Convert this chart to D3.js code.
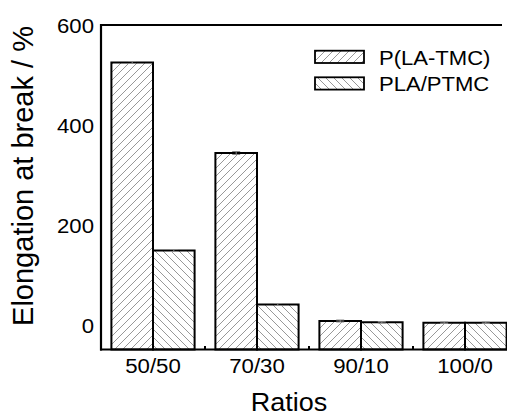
<!DOCTYPE html>
<html><head><meta charset="utf-8">
<script src="https://cdn.jsdelivr.net/npm/d3@7/dist/d3.min.js"></script>
<style>html,body{margin:0;padding:0;background:#fff;}svg{display:block;font-family:"Liberation Sans",Arial,sans-serif;}</style>
</head><body>
<script>
const categories = ["50/50", "70/30", "90/10", "100/0"];
const seriesNames = ["P(LA-TMC)", "PLA/PTMC"];
const copolymerValues = [525, 344, 8, 4.5];
const blendValues = [149, 41, 5.5, 4.5];
const copolymerErr = [2, 3, 2, 1.5];
const blendErr = [2, 2, 1.5, 1.5];
const yTicks = [0, 200, 400, 600];

(function () {
const W = 507, H = 417;
const svg = d3.select("body").append("svg").attr("width", W).attr("height", H);
const defs = svg.append("defs");
function hatch(id, dir) {
  const s = 8;
  const p = defs.append("pattern").attr("id", id).attr("patternUnits", "userSpaceOnUse")
    .attr("width", s).attr("height", s);
  p.append("rect").attr("width", s).attr("height", s).attr("fill", "#fff");
  const d = dir > 0
    ? `M0,${s} L${s},0 M${-s/2},${s/2} L${s/2},${-s/2} M${s/2},${s*1.5} L${s*1.5},${s/2}`
    : `M0,0 L${s},${s} M${-s/2},${s/2} L${s/2},${s*1.5} M${s/2},${-s/2} L${s*1.5},${s/2}`;
  p.append("path").attr("d", d).attr("stroke", "#8c8c8c").attr("stroke-width", 0.9).attr("fill", "none");
}
hatch("h1", 1);
hatch("h2", -1);
const fills = ["url(#h1)", "url(#h2)"];

const pl = 101, pt = 25, pb = 349.5;
const y = d3.scaleLinear().domain([-49, 600]).range([pb, pt]);
const x = d3.scaleBand().domain(categories).range([pl, 517]).paddingInner(0.2).paddingOuter(0.1);
const xs = d3.scaleBand().domain(seriesNames).range([0, x.bandwidth()]);

const data = [];
categories.forEach((c, i) => {
  data.push({cat: c, s: seriesNames[0], v: copolymerValues[i], e: copolymerErr[i], f: fills[0]});
  data.push({cat: c, s: seriesNames[1], v: blendValues[i], e: blendErr[i], f: fills[1]});
});

const bars = svg.append("g");
bars.selectAll("rect").data(data).join("rect")
  .attr("x", d => x(d.cat) + xs(d.s))
  .attr("y", d => y(d.v))
  .attr("width", xs.bandwidth())
  .attr("height", d => pb - y(d.v))
  .attr("fill", d => d.f)
  .attr("stroke", "#000").attr("stroke-width", 2);

const eb = svg.append("g").attr("stroke", "#888").attr("stroke-width", 1);
data.forEach(d => {
  const cx = x(d.cat) + xs(d.s) + xs.bandwidth() / 2;
  eb.append("line").attr("x1", cx).attr("x2", cx).attr("y1", y(d.v + d.e)).attr("y2", y(d.v - d.e));
  eb.append("line").attr("x1", cx - 4).attr("x2", cx + 4).attr("y1", y(d.v + d.e)).attr("y2", y(d.v + d.e));
  eb.append("line").attr("x1", cx - 4).attr("x2", cx + 4).attr("y1", y(d.v - d.e)).attr("y2", y(d.v - d.e));
});

svg.append("line").attr("x1", pl).attr("x2", pl).attr("y1", pt - 1).attr("y2", pb + 1)
  .attr("stroke", "#000").attr("stroke-width", 2.2);
svg.append("line").attr("x1", pl - 1).attr("x2", 502).attr("y1", pt).attr("y2", pt)
  .attr("stroke", "#000").attr("stroke-width", 2.2);
svg.append("line").attr("x1", pl - 1).attr("x2", W).attr("y1", pb).attr("y2", pb)
  .attr("stroke", "#000").attr("stroke-width", 2.2);

const step = x.step();
categories.slice(1).forEach(c => {
  const bx = x(c) - step * 0.1;
  svg.append("line").attr("x1", bx).attr("x2", bx).attr("y1", pb).attr("y2", pb - 3.5)
    .attr("stroke", "#000").attr("stroke-width", 2);
});

const yg = svg.append("g");
yTicks.forEach(t => {
  yg.append("text").attr("transform", `translate(94,${y(t) + 7.5}) scale(1.08,1)`)
    .attr("text-anchor", "end").attr("font-size", 20.5).attr("fill", "#000").text(t);
});

categories.forEach(c => {
  svg.append("text").attr("transform", `translate(${x(c) + x.bandwidth() / 2},${373}) scale(1.06,1)`)
    .attr("text-anchor", "middle").attr("font-size", 21).attr("fill", "#000").text(c);
});

svg.append("text").attr("transform", `translate(289,411) scale(1.08,1)`)
  .attr("text-anchor", "middle").attr("font-size", 25).attr("fill", "#000").text("Ratios");
svg.append("text").attr("transform", `translate(33,176) rotate(-90)`)
  .attr("text-anchor", "middle").attr("font-size", 29).attr("fill", "#000").text("Elongation at break / %");

const lg = svg.append("g");
seriesNames.forEach((s, i) => {
  const ly = 50.7 + i * 26.6;
  lg.append("rect").attr("x", 315).attr("y", ly).attr("width", 49).attr("height", 12.3)
    .attr("fill", fills[i]).attr("stroke", "#000").attr("stroke-width", 1.8);
  lg.append("text").attr("transform", `translate(379,${ly + 14}) scale(1.05,1)`)
    .attr("font-size", 21).attr("fill", "#000").text(s);
});
})();
</script>
</body></html>
